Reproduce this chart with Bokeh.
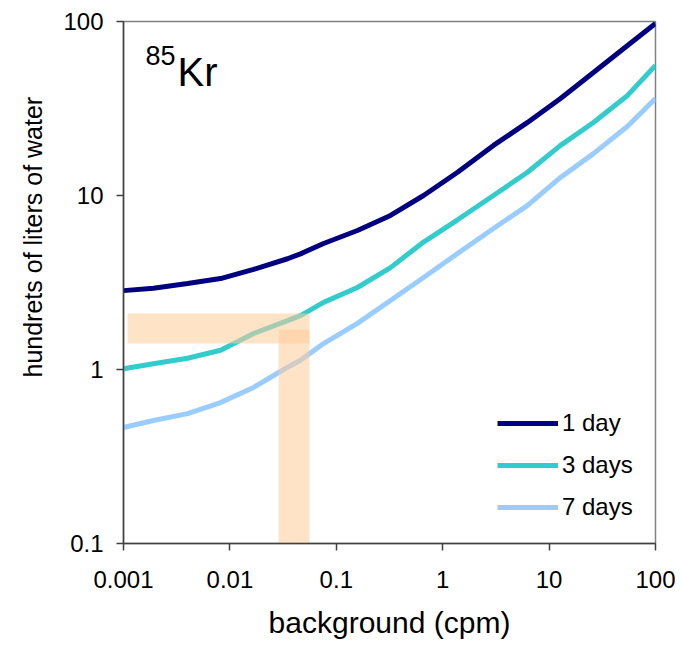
import math
from bokeh.plotting import figure
from bokeh.models import Range1d, FixedTicker, CustomJSTickFormatter, Label, Legend, LegendItem, Title
from bokeh.embed import file_html
from bokeh.resources import INLINE

# ---- data ----
background = [0.001, 0.00191, 0.0040, 0.00817, 0.0167, 0.0348, 0.0461, 0.0759, 0.158,
              0.323, 0.661, 1.38, 3.0, 6.27, 12.8, 26.1, 54.6, 100]
one_day = [2.84, 2.93, 3.12, 3.33, 3.76, 4.33, 4.62, 5.30, 6.29,
           7.68, 10.0, 13.6, 19.4, 26.3, 36.1, 50.9, 72.8, 97.4]
three_days = [1.01, 1.08, 1.16, 1.29, 1.61, 1.91, 2.04, 2.43, 2.96,
              3.85, 5.40, 7.25, 10.0, 13.6, 19.4, 26.3, 37.6, 55.9]
seven_days = [0.464, 0.509, 0.558, 0.646, 0.789, 1.03, 1.13, 1.41, 1.84,
              2.49, 3.38, 4.64, 6.46, 8.77, 12.7, 17.4, 25.0, 36.1]
series_names = ["1 day", "3 days", "7 days"]

band_left = [0.00109, 0.0287]
band_right = [0.056, 0.056]
band_bottom = [1.41, 0.096]
band_top = [2.10, 1.70]

x_ticks = [0.001, 0.01, 0.1, 1, 10, 100]
x_tick_labels = ["0.001", "0.01", "0.1", "1", "10", "100"]
y_ticks = [0.1, 1, 10, 100]
y_tick_labels = ["0.1", "1", "10", "100"]

FONT = "Liberation Sans"
colors = ["#000080", "#33CCCC", "#99CCFF"]

p = figure(width=675, height=648, x_axis_type="log", y_axis_type="log",
           x_range=Range1d(0.001, 100), y_range=Range1d(0.1, 100),
           output_backend="svg", toolbar_location=None,
           min_border_left=123, min_border_right=20, min_border_top=21, min_border_bottom=105)

p.xgrid.visible = False
p.ygrid.visible = False
p.outline_line_color = "#808080"
p.outline_line_width = 1.5
p.background_fill_color = "white"
p.border_fill_color = "white"

renderers = []
for ys, c in zip([one_day, three_days, seven_days], colors):
    r = p.line(background, ys, line_color=c, line_width=5)
    renderers.append(r)

p.quad(left=band_left, right=band_right, bottom=band_bottom, top=band_top,
       fill_color="#FFCC99", fill_alpha=0.55, line_color=None)

fmt_code = """
let best = -1, bd = 1e9;
for (let i = 0; i < tv.length; i++) {
  const d = Math.abs(Math.log10(tv[i]) - Math.log10(tick));
  if (d < bd) { bd = d; best = i; }
}
return bd < 1e-6 ? tl[best] : '';
"""

for ax, ticks, labels in [(p.xaxis[0], x_ticks, x_tick_labels), (p.yaxis[0], y_ticks, y_tick_labels)]:
    ax.ticker = FixedTicker(ticks=ticks, minor_ticks=[])
    ax.formatter = CustomJSTickFormatter(args=dict(tv=ticks, tl=labels), code=fmt_code)
    ax.major_tick_out = 7
    ax.major_tick_in = 0
    ax.minor_tick_out = 0
    ax.minor_tick_in = 0
    ax.axis_line_color = "#404040"
    ax.axis_line_width = 1.5
    ax.major_tick_line_color = "#404040"
    ax.major_tick_line_width = 1.5
    ax.major_label_text_font = FONT
    ax.major_label_text_font_size = "24px"
    ax.major_label_text_color = "black"

p.xaxis.major_label_standoff = 20
p.yaxis.major_label_standoff = 13
p.xaxis.axis_label = "background (cpm)"
p.xaxis.axis_label_text_font = FONT
p.xaxis.axis_label_text_font_size = "30px"
p.xaxis.axis_label_text_font_style = "normal"
p.xaxis.axis_label_text_color = "black"
p.xaxis.axis_label_standoff = 15

ytitle = Title(text="hundrets of liters of water", align="left", offset=166, standoff=27,
               text_font=FONT, text_font_size="25px", text_font_style="normal",
               text_color="black")
p.add_layout(ytitle, "left")

sup = Label(x=22, y=488, x_units="screen", y_units="screen", text="85",
            text_font=FONT, text_font_size="27px", text_baseline="alphabetic",
            text_align="left", text_color="black")
kr = Label(x=54, y=472, x_units="screen", y_units="screen", text="Kr",
           text_font=FONT, text_font_size="40px", text_baseline="alphabetic",
           text_align="left", text_color="black")
p.add_layout(sup)
p.add_layout(kr)

legend = Legend(items=[LegendItem(label=n, renderers=[r]) for n, r in zip(series_names, renderers)],
                location=(374, 18), padding=0, margin=0, spacing=6,
                glyph_width=61, glyph_height=36, label_height=36, label_standoff=4,
                label_text_font=FONT, label_text_font_size="24px", label_text_color="black",
                border_line_color=None, background_fill_alpha=0)
p.add_layout(legend, "center")

open("out.html", "w").write(file_html(p, INLINE))
